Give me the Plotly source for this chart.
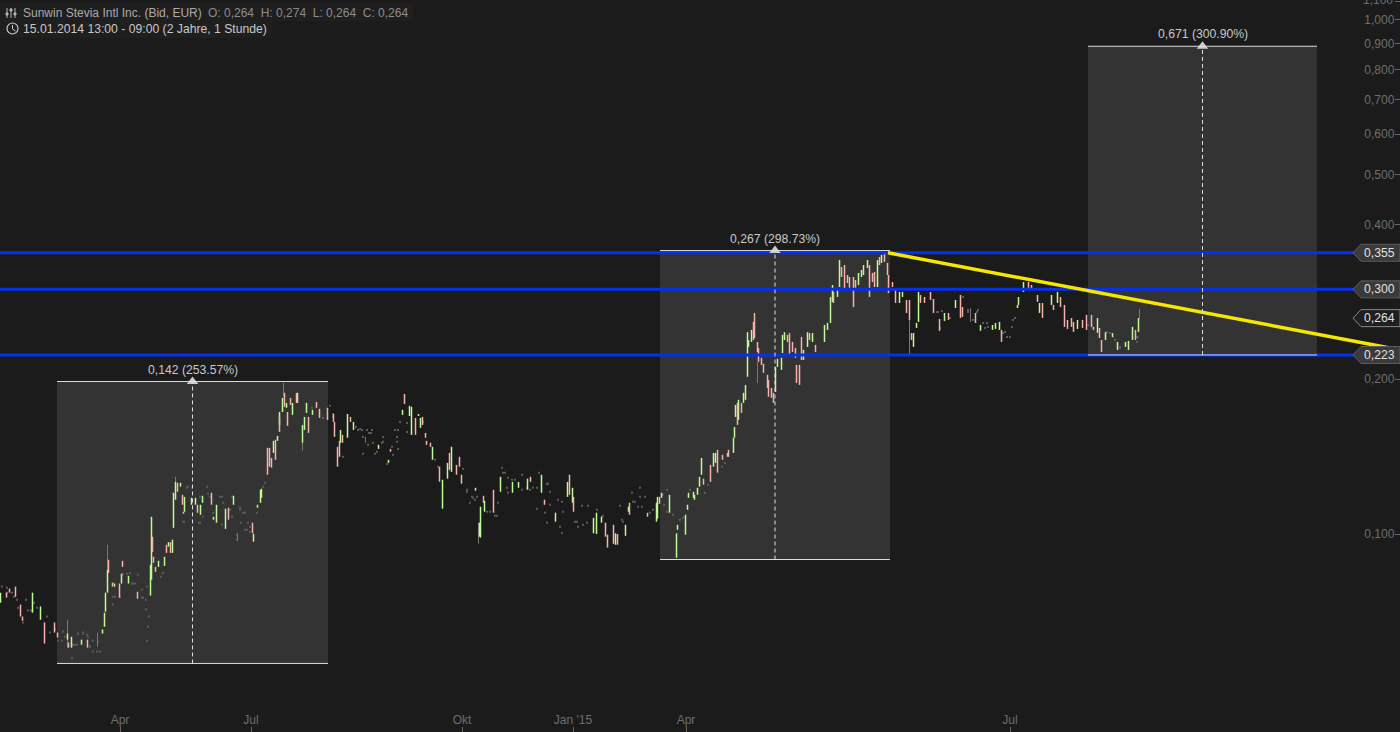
import math

import plotly.graph_objects as go

BG = '#1b1b1b'
W, H = 1400, 732

# bars with a rising body (bar number on the x axis, prices in EUR)
up_x = [0, 32, 40, 67, 71, 81, 102, 104, 105, 107, 114, 121, 128, 150, 151, 158, 164, 168, 172, 173, 175, 180, 184, 191, 195, 200, 202, 213, 216, 225, 233, 253, 257, 260, 261, 273, 277, 279, 282, 286, 292, 297, 302, 304, 306, 312, 340, 347, 353, 378, 388, 402, 409, 411, 418, 420, 432, 442, 447, 451, 475, 479, 480, 484, 500, 512, 518, 527, 541, 555, 567, 572, 593, 596, 601, 615, 625, 628, 656, 657, 661, 669, 676, 677, 685, 687, 688, 693, 694, 697, 699, 701, 713, 715, 733, 734, 735, 738, 743, 745, 747, 748, 751, 775, 777, 781, 782, 784, 803, 807, 812, 824, 827, 830, 832, 837, 839, 858, 861, 863, 867, 877, 881, 899, 902, 913, 916, 918, 944, 955, 980, 992, 995, 999, 1017, 1018, 1023, 1039, 1051, 1057, 1077, 1097, 1105, 1112, 1117, 1125, 1128, 1132, 1138]
up_high = [.0769, .0769, .0723, .0640, .0631, .0623, .0652, .0703, .0769, .0852, .0801, .0837, .0829, .0871, .1080, .0887, .0903, .0964, .0975, .1203, .1263, .1258, .1181, .1176, .1176, .1140, .1187, .1080, .1140, .1120, .1187, .1001, .1140, .1219, .1225, .1518, .1552, .1727, .1840, .1799, .1799, .1882, .1630, .1690, .1799, .1744, .1594, .1712, .1652, .1491, .1394, .1744, .1776, .1768, .1712, .1682, .1478, .1275, .1375, .1478, .1230, .1052, .1130, .1160, .1292, .1263, .1263, .1281, .1304, .1100, .1263, .1230, .1075, .1100, .1080, .1003, .1042, .1130, .1150, .1181, .1203, .1192, .1003, .1042, .1090, .1140, .1203, .1208, .1192, .1230, .1292, .1406, .1438, .1438, .1539, .1615, .1783, .1824, .1882, .1950, .2470, .2385, .2495, .2114, .2192, .2202, .2440, .2470, .2281, .2470, .2460, .2551, .2574, .2892, .3051, .3012, .3413, .3220, .3263, .3337, .3413, .3413, .3490, .2958, .2958, .2460, .2574, .2958, .2692, .2853, .2551, .2551, .2574, .2586, .2790, .2892, .3092, .2815, .2918, .2958, .2609, .2632, .2470, .2460, .2364, .2364, .2375, .2529, .2632]
up_low = [.0735, .0703, .0681, .0623, .0601, .0609, .0640, .0660, .0706, .0769, .0790, .0801, .0801, .0759, .0815, .0863, .0867, .0945, .0919, .1028, .1166, .1236, .1105, .1140, .1140, .1090, .1150, .1066, .1052, .1023, .1140, .0966, .1125, .1150, .1176, .1438, .1518, .1630, .1727, .1760, .1705, .1799, .1505, .1594, .1720, .1705, .1505, .1539, .1594, .1464, .1375, .1705, .1697, .1559, .1697, .1609, .1394, .1120, .1281, .1321, .1214, .0988, .0984, .1105, .1208, .1203, .1230, .1219, .1203, .1057, .1181, .1150, .1003, .1000, .1052, .0953, .0992, .1105, .1057, .1071, .1176, .1100, .0899, .1019, .0997, .1115, .1176, .1176, .1166, .1192, .1236, .1304, .1352, .1375, .1438, .1539, .1690, .1667, .1799, .1824, .2022, .2312, .2364, .1890, .2114, .2086, .2250, .2385, .2181, .2312, .2364, .2364, .2495, .2574, .2828, .2892, .3024, .3051, .3163, .3191, .3292, .3024, .3368, .2815, .2892, .2312, .2517, .2586, .2597, .2752, .2484, .2495, .2506, .2495, .2752, .2790, .2958, .2692, .2790, .2815, .2506, .2462, .2385, .2418, .2281, .2312, .2281, .2385, .2473]

# bars with a falling body
down_x = [6, 9, 15, 20, 22, 44, 54, 57, 68, 87, 108, 112, 119, 122, 137, 152, 153, 155, 166, 170, 177, 182, 183, 197, 211, 228, 252, 267, 269, 271, 275, 279, 284, 287, 290, 296, 308, 316, 319, 327, 333, 334, 337, 339, 342, 350, 390, 404, 415, 422, 425, 426, 430, 439, 449, 456, 459, 461, 483, 493, 530, 544, 569, 573, 605, 607, 613, 617, 629, 647, 659, 703, 710, 717, 722, 727, 728, 737, 741, 753, 754, 757, 758, 761, 763, 767, 768, 771, 773, 787, 789, 792, 795, 796, 799, 801, 809, 815, 833, 841, 844, 847, 849, 853, 855, 869, 872, 874, 879, 884, 887, 888, 892, 895, 906, 909, 911, 920, 924, 930, 933, 939, 948, 960, 962, 975, 1001, 1028, 1031, 1037, 1042, 1053, 1060, 1064, 1067, 1071, 1073, 1082, 1086, 1091, 1093, 1099, 1101, 1135]
down_high = [.0769, .0783, .0790, .0729, .0691, .0673, .0673, .0643, .0615, .0623, .0891, .0804, .0801, .0887, .0772, .0988, .0903, .0863, .0953, .0964, .1258, .1192, .1105, .1140, .1203, .1125, .1052, .1471, .1471, .1406, .1525, .1690, .1882, .1727, .1840, .1882, .1690, .1807, .1752, .1760, .1712, .1652, .1478, .1518, .1559, .1690, .1464, .1873, .1682, .1690, .1573, .1518, .1505, .1352, .1438, .1363, .1413, .1304, .1187, .1219, .1292, .1166, .1304, .1181, .1052, .0997, .1042, .1000, .1150, .1100, .1181, .1281, .1363, .1458, .1426, .1438, .1458, .1799, .1799, .2586, .2692, .2364, .2302, .2202, .2143, .2040, .1994, .1924, .1882, .2440, .2460, .2364, .2302, .2133, .2133, .2418, .2460, .2333, .2958, .3306, .3337, .3191, .3163, .3163, .3120, .3337, .3220, .3234, .3459, .3537, .3368, .3191, .3092, .2984, .2853, .2853, .2460, .2918, .2892, .2958, .2866, .2621, .2692, .2918, .2764, .2692, .2495, .3092, .3051, .2918, .2815, .2790, .2892, .2790, .2609, .2632, .2586, .2609, .2668, .2668, .2529, .2517, .2385, .2495]
down_low = [.0752, .0769, .0755, .0691, .0678, .0612, .0643, .0629, .0601, .0601, .0840, .0790, .0752, .0863, .0748, .0923, .0879, .0844, .0919, .0919, .1208, .1140, .1095, .1100, .1140, .1066, .1003, .1304, .1352, .1346, .1394, .1580, .1768, .1623, .1783, .1799, .1573, .1760, .1682, .1667, .1652, .1545, .1352, .1413, .1505, .1652, .1445, .1791, .1559, .1630, .1539, .1491, .1478, .1264, .1333, .1304, .1352, .1253, .1150, .1100, .1263, .1140, .1192, .1105, .0988, .0941, .0957, .0953, .1090, .1080, .1145, .1247, .1263, .1316, .1394, .1413, .1413, .1630, .1720, .2385, .2406, .2260, .2162, .2133, .2059, .1924, .1849, .1840, .1799, .2364, .2230, .2260, .2202, .1967, .1950, .2181, .2385, .2260, .2815, .3163, .2984, .3078, .3012, .2764, .3012, .2892, .3092, .3024, .3337, .3383, .3191, .2944, .3024, .2815, .2692, .2609, .2385, .2815, .2815, .2853, .2692, .2484, .2609, .2632, .2645, .2574, .2364, .3012, .2984, .2828, .2632, .2728, .2764, .2529, .2506, .2529, .2473, .2517, .2495, .2529, .2495, .2406, .2260, .2385]

# grey wicks that stick out of the bodies
wick_x = [67, 97, 107, 151, 175, 237, 283, 302, 365, 478, 757, 909, 970, 1139]
wick_high = [.0681, .0643, .0953, .1080, .1292, .1003, .1967, .1525, .1545, .1052, .2162, .2678, .2752, .2740]
wick_low = [.0601, .0604, .0852, .1033, .1258, .0969, .1849, .1452, .1505, .0958, .1967, .2230, .2586, .2621]

# hours with a single tick, these show up as small grey dots
flat_x = [2, 7, 7, 12, 14, 17, 18, 26, 28, 31, 23, 34, 37, 47, 50, 55, 58, 62, 63, 65, 72, 75, 78, 83, 87, 93, 98, 90, 93, 100, 72,
          113, 113, 120, 122, 130, 133, 138, 142, 146, 146, 149, 148, 147, 163, 161, 184, 187, 199, 207, 208, 213, 222, 223, 222, 232, 232, 237, 240, 245, 241, 247, 250, 265, 263, 257, 312, 323, 330, 333,
          333, 343, 356, 362, 367, 371, 363, 363, 368, 373, 377, 383, 382, 392, 395, 398, 397, 398, 393, 387, 400, 407, 423, 435, 438, 463, 467, 472, 475, 470, 487, 495, 498, 502, 503, 507, 508, 515, 522, 527, 533, 539, 537, 547, 550, 550, 545, 547, 558, 562, 563, 560, 562, 575, 578, 582, 588, 587, 597, 603, 622, 620, 632, 640, 645, 638, 635, 650, 667,
          667, 664, 673, 680, 683, 690, 705, 708, 725, 722,
          937, 942, 950, 963, 968, 978, 973, 987, 985, 1005, 1010, 1013, 1015, 1012, 1092, 1107, 1113, 1120, 1137, 1138,
          123, 127, 132, 135, 113, 115, 143, 147, 142, 200, 203, 210, 220, 230, 240, 243, 248, 250, 245, 237, 192, 188, 183, 200, 78, 83, 88, 73, 77, 90, 97,
          369, 372, 358, 360, 375, 383, 397, 407, 467, 473, 477, 490, 497, 505, 512, 522, 530, 537, 508, 548, 577, 583, 602, 623, 633, 640, 642, 653, 663,
          968, 977, 983, 988, 1003, 1007, 938, 1110, 1115, 1120, 1137, 1088, 1093, 940]
flat_price = [.0790, .0786, .0769, .0769, .0755, .0745, .0719, .0745, .0710, .0710, .0673, .0735, .0719, .0691, .0643, .0652, .0620, .0620, .0646, .0631, .0609, .0609, .0640, .0643, .0637, .0620, .0617, .0604, .0591, .0591, .0573,
              .0729, .0755, .0755, .0833, .0840, .0801, .0833, .0752, .0745, .0713, .0691, .0660, .0620, .0840, .0826, .1057, .1230, .1052, .1236, .1197, .1100, .1181, .1150, .1042, .1181, .1080, .0997, .1115, .1100, .1052, .1019, .1033, .1258, .1236, .1100, .1760, .1682, .1776, .1690,
              .1712, .1413, .1615, .1594, .1594, .1573, .1545, .1432, .1491, .1505, .1445, .1545, .1505, .1478, .1594, .1594, .1511, .1464, .1426, .1369, .1652, .1580, .1652, .1394, .1352, .1339, .1208, .1181, .1166, .1150, .1105, .1085, .1150, .1346, .1316, .1230, .1287, .1275, .1304, .1230, .1230, .1316, .1120, .1253, .1208, .1140, .1100, .1052, .1166, .1155, .1105, .1033, .1005, .1057, .1033, .1135, .1135, .1052, .1115, .1085, .1066, .1135, .1203, .1230, .1181, .1130, .1155, .1100, .1219,
              .1105, .1140, .1090, .1066, .1075, .1219, .1203, .1247, .1375, .1352,
              .2704, .2716, .2632, .2892, .2704, .2728, .2609, .2574, .2517, .2473, .2418, .2609, .2632, .2529, .2551, .2473, .2418, .2312, .2364, .2418,
              .0837, .0837, .0801, .0801, .0801, .0755, .0752, .0790, .0779, .1181, .1080, .1181, .1181, .1115, .1125, .1100, .1052, .1010, .1019, .0975, .1230, .1236, .1057, .1052, .0640, .0640, .0631, .0609, .0609, .0604, .0591,
              .1573, .1594, .1594, .1601, .1432, .1511, .1545, .1645, .1219, .1176, .1181, .1105, .1085, .1316, .1275, .1219, .1219, .1230, .1203, .1253, .1057, .1042, .1080, .1057, .1155, .1181, .1130, .1115, .1192,
              .2728, .2704, .2574, .2529, .2462, .2418, .2704, .2462, .2385, .2302, .2418, .2551, .2517, .2517]

# measuring boxes
box_start = [57, 660, 1088]
box_end = [328, 890, 1317]
box_low = [.0560, .0892, .223]
box_high = [.198, .356, .889]
box_labels = ['0,142 (253.57%)', '0,267 (298.73%)', '0,671 (300.90%)']

# horizontal levels and the tags on the right
level_prices = [.3525, .2992, .223]
level_labels = ['0,355', '0,300', '0,223']
last_price = .263
last_label = '0,264'

# falling trend line
trend_x = [888, 1390]
trend_price = [.3525, .2301]

# axes
x_tick_pos = [120, 251, 462, 573, 686, 1010]
x_tick_text = ['Apr', 'Jul', 'Okt', "Jan '15", 'Apr', 'Jul']
y_tick_vals = [.1, .2, .4, .5, .6, .7, .8, .9, 1.0]
y_tick_text = ['0,100', '0,200', '0,400', '0,500', '0,600', '0,700', '0,800', '0,900', '1,000']
top_tick_text = '1,100'


def segments(xs, lows, highs):
    # x,y pairs with a None between them so one trace draws all the bars
    px, py = [], []
    for x, lo, hi in zip(xs, lows, highs):
        px += [x + 0.5, x + 0.5, None]
        py += [lo, hi, None]
    return px, py


def pixel_path(points):
    # icon outline given in screen pixels, converted to paper coordinates
    parts = []
    for i, (x, y) in enumerate(points):
        parts.append(('M' if i == 0 else 'L') + f'{x / W:.5f},{1 - y / H:.5f}')
    return ' '.join(parts)


fig = go.Figure()

fig.add_trace(go.Scatter(x=flat_x, y=flat_price, mode='markers',
                         marker=dict(symbol='square', size=2, color='#5a5a5a', line=dict(width=0))))

wx, wy = segments(wick_x, wick_low, wick_high)
fig.add_trace(go.Scatter(x=wx, y=wy, mode='lines', line=dict(color='#777777', width=1)))

ux, uy = segments(up_x, up_low, up_high)
fig.add_trace(go.Scatter(x=ux, y=uy, mode='lines', line=dict(color='#bdfb93', width=1.5)))

dx, dy = segments(down_x, down_low, down_high)
fig.add_trace(go.Scatter(x=dx, y=dy, mode='lines', line=dict(color='#f8b2aa', width=1.5)))

for price in level_prices:
    fig.add_trace(go.Scatter(x=[0, 1356], y=[price, price], mode='lines',
                             line=dict(color='#0430f5', width=3)))

fig.add_trace(go.Scatter(x=trend_x, y=trend_price, mode='lines',
                         line=dict(color='#f7e600', width=3.4)))

# little arrow heads on top of the measuring boxes
centers = [(a + b) / 2 for a, b in zip(box_start, box_end)]
fig.add_trace(go.Scatter(x=centers, y=box_high, mode='markers',
                         marker=dict(symbol='triangle-up', size=10, color='#cccccc', line=dict(width=0))))

shapes = []
annotations = []

for a, b, lo, hi, c, label in zip(box_start, box_end, box_low, box_high, centers, box_labels):
    shapes.append(dict(type='rect', layer='below', x0=a, x1=b, y0=lo, y1=hi,
                       fillcolor='#333333', line=dict(width=0)))
    for p in (lo, hi):
        shapes.append(dict(type='line', layer='above', x0=a, x1=b, y0=p, y1=p,
                           line=dict(color='#dddddd', width=1)))
    shapes.append(dict(type='line', layer='above', x0=c, x1=c, y0=lo, y1=hi,
                       line=dict(color='#dddddd', width=1, dash='4px,3px')))
    # annotations on a log axis take the log of the value
    annotations.append(dict(x=c, y=math.log10(hi), yref='y', xref='x', text=label, showarrow=False,
                            yanchor='bottom', yshift=3, font=dict(color='#c8c8c8', size=12.2)))

# price tags on the right edge
tag_path = 'M-47,0 L-39,8.5 L0,8.5 L0,-8.5 L-39,-8.5 Z'
for price, label in zip(level_prices, level_labels):
    shapes.append(dict(type='path', layer='above', xsizemode='pixel', ysizemode='pixel',
                       xanchor=W, yanchor=price, path=tag_path,
                       fillcolor='#3a3a3a', line=dict(color='#5e5e5e', width=1)))
    annotations.append(dict(x=1397, y=math.log10(price), xref='x', yref='y', text=label, showarrow=False,
                            xanchor='right', font=dict(color='#e0e0e0', size=12.2)))
shapes.append(dict(type='path', layer='above', xsizemode='pixel', ysizemode='pixel',
                   xanchor=W, yanchor=last_price, path=tag_path,
                   fillcolor='#1f1f1f', line=dict(color='#8a8a8a', width=1)))
annotations.append(dict(x=1397, y=math.log10(last_price), xref='x', yref='y', text=last_label, showarrow=False,
                        xanchor='right', font=dict(color='#e0e0e0', size=12.2)))

# top axis label sits just past the end of the range, half cut by the window
annotations.append(dict(x=1395, y=1, xref='x', yref='paper', text=top_tick_text, showarrow=False,
                        xanchor='right', yanchor='middle', font=dict(color='#6e6e6e', size=12)))
shapes.append(dict(type='line', xref='x', yref='paper', x0=1395, x1=1400, y0=1 - 1.5 / H, y1=1 - 1.5 / H,
                   line=dict(color='#666666', width=1)))

# header boxes
shapes.append(dict(type='rect', xref='paper', yref='paper', x0=0, x1=413 / W, y0=1 - 21 / H, y1=1 - 3 / H,
                   fillcolor='#1f1f1f', line=dict(width=0)))
shapes.append(dict(type='rect', xref='paper', yref='paper', x0=0, x1=272 / W, y0=1 - 38 / H, y1=1 - 21 / H,
                   fillcolor='#1f1f1f', line=dict(width=0)))

# slider icon
for sx, knob in ((7, 14), (11, 10), (15, 14)):
    shapes.append(dict(type='path', xref='paper', yref='paper', path=pixel_path([(sx, 8), (sx, 18)]),
                       line=dict(color='#b5b5b5', width=1)))
    shapes.append(dict(type='path', xref='paper', yref='paper',
                       path=pixel_path([(sx - 1, knob - 1), (sx + 1, knob - 1), (sx + 1, knob + 1), (sx - 1, knob + 1)]) + ' Z',
                       fillcolor='#b5b5b5', line=dict(color='#b5b5b5', width=1)))

# clock icon
shapes.append(dict(type='circle', xref='paper', yref='paper', x0=7 / W, x1=18 / W, y0=1 - 34 / H, y1=1 - 23 / H,
                   line=dict(color='#c8c8c8', width=1.2)))
shapes.append(dict(type='path', xref='paper', yref='paper', path=pixel_path([(12.5, 25), (12.5, 29), (15.5, 31)]),
                   line=dict(color='#c8c8c8', width=1)))

annotations.append(dict(x=21 / W, y=1 - 13 / H, xref='paper', yref='paper', showarrow=False, xanchor='left', yanchor='middle',
                        text='Sunwin Stevia Intl Inc. (Bid, EUR)', font=dict(color='#aaaaaa', size=12)))
annotations.append(dict(x=206 / W, y=1 - 13 / H, xref='paper', yref='paper', showarrow=False, xanchor='left', yanchor='middle',
                        text='O: 0,264&nbsp;&nbsp;H: 0,274&nbsp;&nbsp;L: 0,264&nbsp;&nbsp;C: 0,264',
                        font=dict(color='#8c8c8c', size=12)))
annotations.append(dict(x=21 / W, y=1 - 29 / H, xref='paper', yref='paper', showarrow=False, xanchor='left', yanchor='middle',
                        text='15.01.2014 13:00 - 09:00 (2 Jahre, 1 Stunde)', font=dict(color='#c8c8c8', size=12.2)))

fig.update_layout(
    width=W, height=H,
    margin=dict(l=0, r=0, t=0, b=0),
    paper_bgcolor=BG, plot_bgcolor=BG,
    showlegend=False,
    hovermode=False,
    font=dict(family='Liberation Sans, Arial, sans-serif', size=12),
    shapes=shapes,
    annotations=annotations,
    xaxis=dict(range=[0, W], tickmode='array', tickvals=x_tick_pos, ticktext=x_tick_text,
               ticks='inside', ticklen=5, tickcolor='#666666', ticklabelposition='inside',
               tickfont=dict(color='#6e6e6e', size=12), showgrid=False, zeroline=False, showline=False),
    yaxis=dict(type='log', range=[-1.3852, 0.0389], side='right', tickmode='array',
               tickvals=y_tick_vals, ticktext=y_tick_text,
               ticks='inside', ticklen=5, tickcolor='#666666', ticklabelposition='inside',
               tickfont=dict(color='#6e6e6e', size=12), showgrid=False, zeroline=False, showline=False),
)

# the browser's default body margin would push the chart 8px in
fig.write_html("out.html", config=dict(displayModeBar=False),
               post_script="document.body.style.margin='0';document.body.style.background='%s';" % BG)
